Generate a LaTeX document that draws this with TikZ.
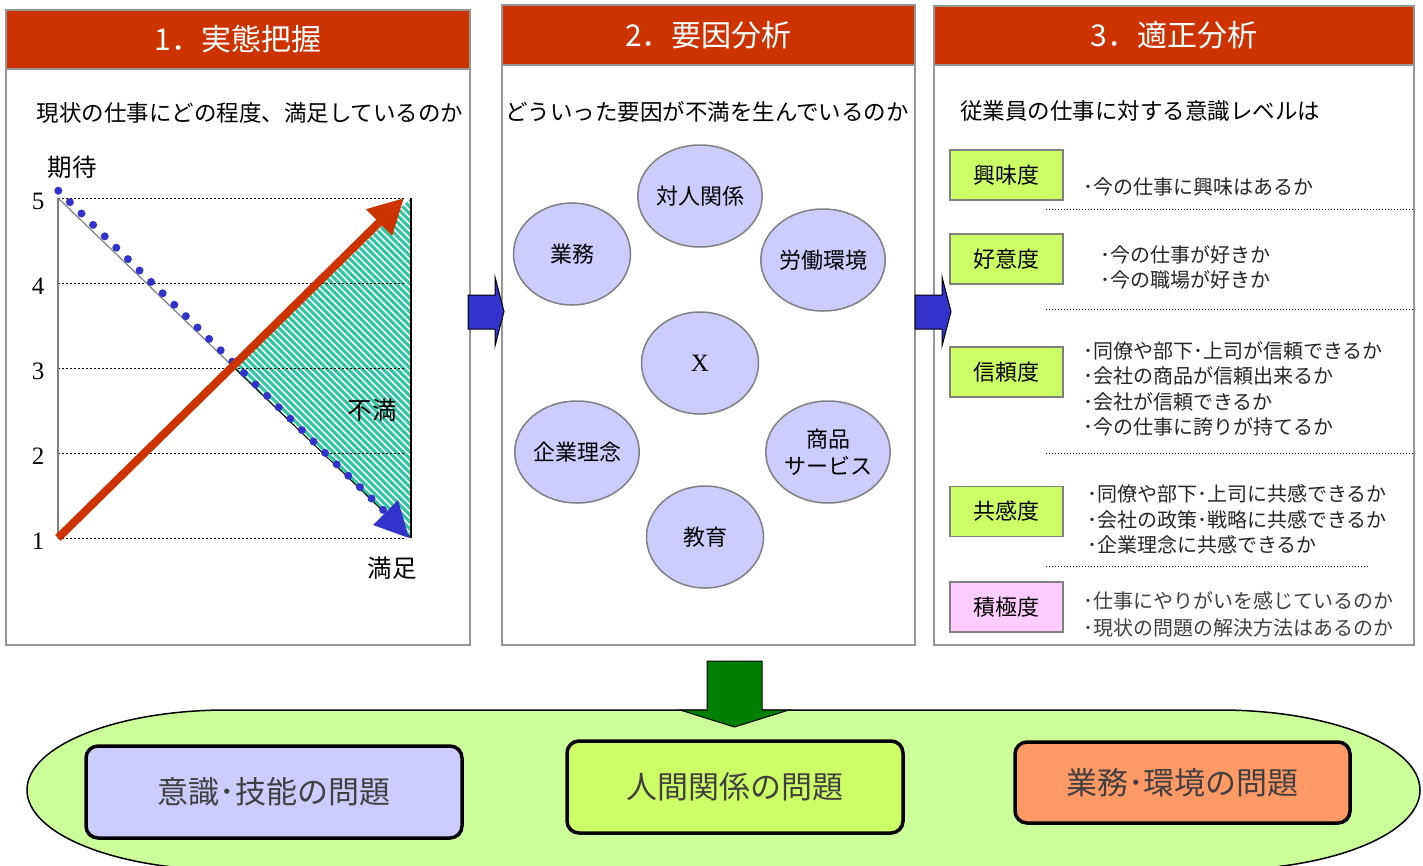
\documentclass[tikz,border=0pt]{standalone}
\usepackage{fontspec}
\setmainfont{Noto Sans CJK JP}
\newfontfamily\timesnum{Liberation Serif}
\usetikzlibrary{shapes.geometric,arrows.meta}
\definecolor{headred}{RGB}{204,51,0}
\definecolor{framegray}{RGB}{150,150,150}
\definecolor{lilacfill}{RGB}{204,204,255}
\definecolor{limefill}{RGB}{204,255,102}
\definecolor{pinkfill}{RGB}{255,204,255}
\definecolor{salmonfill}{RGB}{255,153,102}
\definecolor{palegreen}{RGB}{204,255,153}
\definecolor{arrowblue}{RGB}{51,51,204}
\definecolor{hatchgreen}{RGB}{43,200,160}
\definecolor{darkgreen}{RGB}{0,128,0}
\definecolor{inkgray}{RGB}{64,64,64}
\begin{document}
\begin{tikzpicture}[x=1pt,y=1pt]
    \tikzstyle{every node}+=[inner sep=0pt]
    \tikzstyle{panel}=[draw=framegray,line width=1.5pt,fill=white]
    \tikzstyle{headbar}=[draw=framegray,line width=1.5pt,fill=headred]
    \tikzstyle{headtext}=[text=white,font=\fontsize{30}{34}\selectfont]
    \tikzstyle{lead}=[font=\fontsize{22.5}{26}\selectfont]
    \tikzstyle{grid}=[black,line width=1pt,dash pattern=on 1.5pt off 2.5pt]
    \tikzstyle{tick}=[font=\timesnum\fontsize{25}{28}\selectfont]
    \tikzstyle{chartlabel}=[font=\fontsize{24.5}{28}\selectfont]
    \tikzstyle{cause}=[ellipse,draw=gray,line width=1.5pt,fill=lilacfill,minimum width=117,minimum height=102,align=center,font=\fontsize{22}{27}\selectfont]
    \tikzstyle{blockarrow}=[draw=black,line width=1pt,fill=arrowblue]
    \tikzstyle{gauge}=[draw=gray,line width=1.5pt,minimum width=113,minimum height=50,font=\fontsize{22}{26}\selectfont]
    \tikzstyle{note}=[anchor=west,align=left,text=black!85,font=\fontsize{20}{25.5}\selectfont]
    \tikzstyle{sep}=[black,line width=1pt,dash pattern=on 1pt off 2pt]
    \tikzstyle{issue}=[draw=black,line width=3.5pt,rounded corners=12pt,text=inkgray,font=\fontsize{31}{34}\selectfont]
    \useasboundingbox (0,0) rectangle (1423,-865);
    \fill[white] (0,0) rectangle (1423,-865);
    \draw[panel] (6,-10) rectangle (470,-645);
    \draw[headbar] (6,-10) rectangle (470,-69);
    \node[headtext] (h1) at (238,-39.5) {1．実態把握};
    \node[lead] (q1) at (250,-113) {現状の仕事にどの程度、満足しているのか};
    \draw[panel] (502,-5) rectangle (915,-645);
    \draw[headbar] (502,-5) rectangle (915,-65);
    \node[headtext] (h2) at (708.5,-35) {2．要因分析};
    \node[lead] (q2) at (707,-112) {どういった要因が不満を生んでいるのか};
    \draw[panel] (934,-6) rectangle (1414,-645);
    \draw[headbar] (934,-6) rectangle (1414,-65);
    \node[headtext] (h3) at (1174,-35.5) {3．適正分析};
    \node[lead,anchor=west] (q3) at (960,-111) {従業員の仕事に対する意識レベルは};
    \coordinate (o) at (58,-538);
    \coordinate (top) at (58,-198);
    \coordinate (cross) at (234.5,-368);
    \coordinate (rt) at (411,-198);
    \coordinate (rb) at (411,-538);
    \begin{scope}
    \clip (cross) -- (rt) -- (rb) -- cycle;
    \fill[white] (cross) -- (rt) -- (rb) -- cycle;
    \foreach \c in {10,17,...,374}
        \draw[hatchgreen,line width=3pt] (\c,-150) -- ++(450,-450);
    \end{scope}
    \foreach \y in {198,283,368,453,538}
        \draw[grid] (58,-\y) -- (405,-\y);
    \foreach \y/\n in {198/5,283/4,368/3,453/2,538/1}
        \node[tick] (lv\n) at (38,-\y-3) {\n};
    \draw[gray,line width=1.2pt] (top) -- (o);
    \draw[gray,line width=1.2pt] (top) -- (cross);
    \draw[black,line width=1pt] (cross) -- (rb);
    \draw[black,line width=2pt] (rt) -- (rb);
    \foreach \i in {0,...,28}
        \fill[arrowblue] (58.3+11.6*\i,-190.7-11.4*\i) circle (4);
    \fill[arrowblue] (409,-538) -- (373,-525) -- (398,-500) -- cycle;
    \draw[headred,line width=8pt,-{Triangle[length=35pt,width=35pt]}] (o) -- (404,-198);
    \node[chartlabel] (expect) at (72,-167) {期待};
    \node[chartlabel] (dissat) at (372,-410) {不満};
    \node[chartlabel] (satis) at (392,-568) {満足};
    \node[cause] (c1) at (700,-196) {対人関係};
    \node[cause] (c2) at (572,-254) {業務};
    \node[cause] (c3) at (823,-260) {労働環境};
    \node[cause,font=\timesnum\fontsize{25}{28}\selectfont] (c4) at (700,-363) {X};
    \node[cause] (c5) at (577,-452) {企業理念};
    \node[cause] (c6) at (828,-452) {商品\\サービス};
    \node[cause] (c7) at (705,-537) {教育};
    \draw[blockarrow] (468,-295) -- (495,-295) -- (495,-277) -- (504,-311.5) -- (495,-346) -- (495,-329) -- (468,-329) -- cycle;
    \draw[blockarrow] (915,-295) -- (942,-295) -- (942,-277) -- (951,-311.5) -- (942,-346) -- (942,-329) -- (915,-329) -- cycle;
    \node[gauge,fill=limefill] (g1) at (1006.5,-175) {興味度};
    \node[gauge,fill=limefill] (g2) at (1006.5,-259) {好意度};
    \node[gauge,fill=limefill] (g3) at (1006.5,-372) {信頼度};
    \node[gauge,fill=limefill] (g4) at (1006.5,-511.5) {共感度};
    \node[gauge,fill=pinkfill] (g5) at (1006.5,-607) {積極度};
    \node[note] (n1) at (1083,-187) {･今の仕事に興味はあるか};
    \node[note] (n2) at (1100,-267.5) {･今の仕事が好きか\\･今の職場が好きか};
    \node[note] (n3) at (1083,-389) {･同僚や部下･上司が信頼できるか\\･会社の商品が信頼出来るか\\･会社が信頼できるか\\･今の仕事に誇りが持てるか};
    \node[note] (n4) at (1087,-519.5) {･同僚や部下･上司に共感できるか\\･会社の政策･戦略に共感できるか\\･企業理念に共感できるか};
    \node[note,text=inkgray,font=\fontsize{20}{27}\selectfont] (n5) at (1083,-614.5) {･仕事にやりがいを感じているのか\\･現状の問題の解決方法はあるのか};
    \draw[sep] (1046,-209) -- (1413,-209);
    \draw[sep] (1046,-309) -- (1413,-309);
    \draw[sep] (1046,-453) -- (1413,-453);
    \draw[sep] (1046,-566) -- (1368,-566);
    \draw[black,line width=1.5pt,fill=palegreen] (227,-710) -- (1220,-710) arc[start angle=90,end angle=-90,x radius=200,y radius=80] -- (227,-870) arc[start angle=270,end angle=90,x radius=200,y radius=80] -- cycle;
    \draw[black,line width=1pt,fill=darkgreen] (707,-661) -- (762,-661) -- (762,-710) -- (789,-710) -- (734.5,-727) -- (680,-710) -- (707,-710) -- cycle;
    \node[issue,fill=lilacfill,minimum width=376,minimum height=92] (i1) at (274,-792) {意識･技能の問題};
    \node[issue,fill=limefill,minimum width=336,minimum height=92] (i2) at (735,-787) {人間関係の問題};
    \node[issue,fill=salmonfill,minimum width=335,minimum height=81] (i3) at (1182.5,-782.5) {業務･環境の問題};
\end{tikzpicture}
\end{document}
